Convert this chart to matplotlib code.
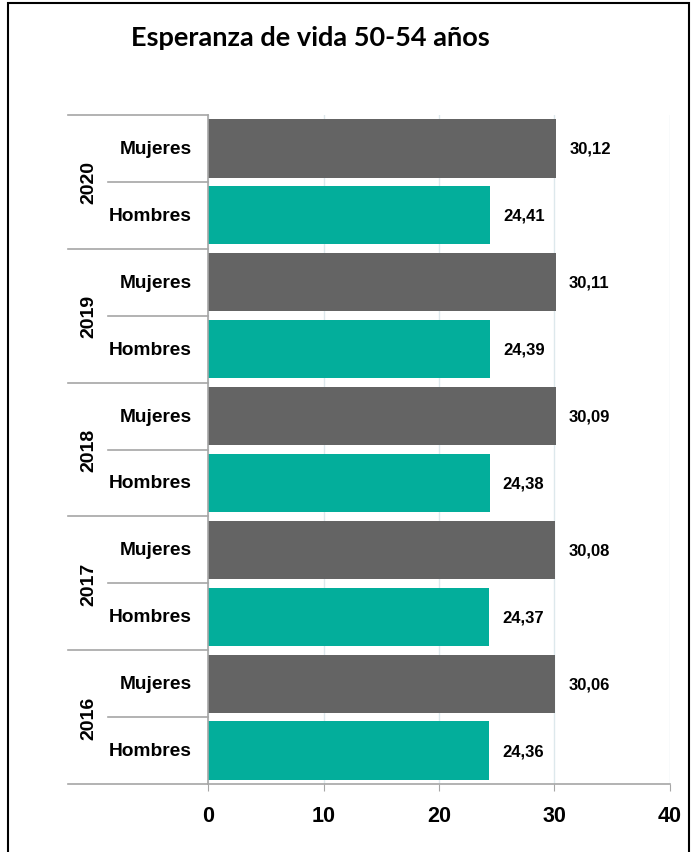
import matplotlib.pyplot as plt
import matplotlib.transforms as mtransforms
from matplotlib.patches import Rectangle

# data
years = ['2016', '2017', '2018', '2019', '2020']
mujeres = [30.06, 30.08, 30.09, 30.11, 30.12]
hombres = [24.36, 24.37, 24.38, 24.39, 24.41]
sexos = ['Hombres', 'Mujeres']

col_muj = '#646464'
col_hom = '#03ae9b'
axis_col = '#a6a6a6'

plt.rcParams['font.family'] = ['Liberation Sans', 'DejaVu Sans']

fig = plt.figure(figsize=(6.92, 8.53), dpi=100)
ax = fig.add_axes([0.3006, 0.0797, 0.6676, 0.7843])

pos_h = [2 * i for i in range(len(years))]
pos_m = [2 * i + 1 for i in range(len(years))]
ax.barh(pos_h, hombres, height=0.87, color=col_hom, zorder=2)
ax.barh(pos_m, mujeres, height=0.87, color=col_muj, zorder=2)

for p, v in zip(pos_h + pos_m, hombres + mujeres):
    ax.text(v + 1.15, p, f'{v:.2f}'.replace('.', ','), va='center',
            ha='left', fontsize=12, fontweight='bold')

ax.set_xlim(0, 40)
ax.set_ylim(-0.5, 9.5)
ax.set_xticks([0, 10, 20, 30, 40])
ax.tick_params(axis='x', labelsize=15.5, length=5, color=axis_col,
               pad=10)
for t in ax.get_xticklabels():
    t.set_fontweight('bold')
ax.set_yticks([])
ax.grid(axis='x', color='#dde8ec', lw=1, zorder=0)
for s in ['top', 'right']:
    ax.spines[s].set_visible(False)
for s in ['left', 'bottom']:
    ax.spines[s].set_color(axis_col)
    ax.spines[s].set_linewidth(1.2)

# two-level category axis
trans = mtransforms.blended_transform_factory(ax.transAxes, ax.transData)
for i, y in enumerate(years):
    ax.text(-0.258, 2 * i + 0.5, y, transform=trans, rotation=90,
            ha='center', va='center', fontsize=14, fontweight='bold')
    for k, s in enumerate(sexos):
        ax.text(-0.035, 2 * i + k, s, transform=trans, ha='right',
                va='center', fontsize=13.8, fontweight='bold')
for i in range(len(years) + 1):
    ax.plot([-0.303, 0], [2 * i - 0.5] * 2, transform=trans,
            color=axis_col, lw=1.2, clip_on=False)
for i in range(len(years)):
    ax.plot([-0.2165, 0], [2 * i + 0.5] * 2, transform=trans,
            color=axis_col, lw=1.2, clip_on=False)

fig.text(0.449, 0.955, 'Esperanza de vida 50-54 años', ha='center',
         va='center', fontsize=19.5, fontweight='bold', family='Lato')

fig.patches.append(Rectangle((0.011, -0.01), 0.984, 1.005,
                             transform=fig.transFigure, fill=False,
                             edgecolor='black', lw=1.5))

fig.savefig('out.png', dpi=100)
